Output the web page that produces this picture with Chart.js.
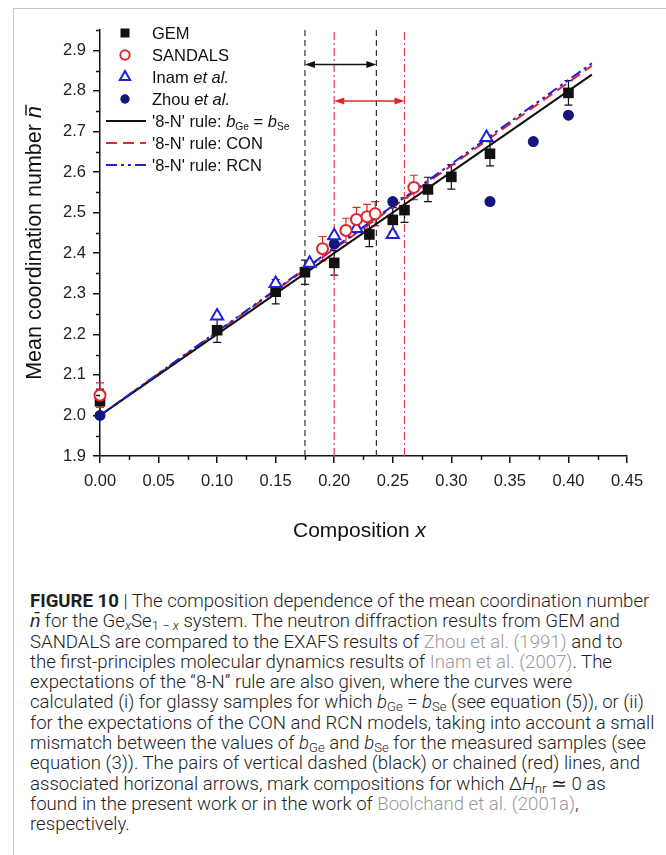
<!DOCTYPE html>
<html>
<head>
<meta charset="utf-8">
<script src="https://cdn.jsdelivr.net/npm/chart.js@4.4.1/dist/chart.umd.min.js"></script>
<style>
  html, body { margin: 0; padding: 0; background: #fff; }
  body { width: 666px; height: 855px; position: relative; overflow: hidden; }
  #frame { position: absolute; left: 13px; top: 8px; width: 700px; height: 900px; border: 1px solid #c4c4c4; box-sizing: border-box; }
  #chartBox { position: absolute; left: 0; top: 0; width: 666px; height: 560px; }
  #caption { position: absolute; left: 30px; top: 591px; font-family: Roboto, 'Liberation Sans', sans-serif; font-weight: 300;
             font-size: 18.6px; line-height: 20.3px; color: #1e1e1e; white-space: nowrap; }
  #caption b { font-weight: 700; }
  #caption sub { font-size: 0.7em; line-height: 0; vertical-align: -0.25em; }
  #caption .ref { color: #9a9a9a; }
</style>
</head>
<body>
<div id="frame"></div>
<div id="chartBox"><canvas id="myChart" width="666" height="560"></canvas></div>
<div id="caption">
<b>FIGURE 10</b> | The composition dependence of the mean coordination number<br>
<i>n&#772;</i> for the Ge<sub><i>x</i></sub>Se<sub>1 &minus; <i>x</i></sub> system. The neutron diffraction results from GEM and<br>
SANDALS are compared to the EXAFS results of <span class="ref">Zhou et al. (1991)</span> and to<br>
the first-principles molecular dynamics results of <span class="ref">Inam et al. (2007)</span>. The<br>
expectations of the &ldquo;8-N&rdquo; rule are also given, where the curves were<br>
calculated (i) for glassy samples for which <i>b</i><sub>Ge</sub> = <i>b</i><sub>Se</sub> (see equation (5)), or (ii)<br>
for the expectations of the CON and RCN models, taking into account a small<br>
mismatch between the values of <i>b</i><sub>Ge</sub> and <i>b</i><sub>Se</sub> for the measured samples (see<br>
equation (3)). The pairs of vertical dashed (black) or chained (red) lines, and<br>
associated horizonal arrows, mark compositions for which &Delta;<i>H</i><sub>nr</sub> &#8771; 0 as<br>
found in the present work or in the work of <span class="ref">Boolchand et al. (2001a)</span>,<br>
respectively.
</div>
<script>
// axis ranges
const xMin = 0, xMax = 0.45, yMin = 1.9, yMax = 2.95;

// GEM neutron diffraction
const gemX   = [0.000, 0.100, 0.150, 0.175, 0.200, 0.230, 0.250, 0.260, 0.280, 0.300, 0.333, 0.400];
const gemN   = [2.035, 2.210, 2.305, 2.353, 2.376, 2.446, 2.482, 2.506, 2.557, 2.588, 2.645, 2.795];
const gemErr = [0.030, 0.030, 0.030, 0.030, 0.030, 0.030, 0.030, 0.030, 0.030, 0.030, 0.030, 0.030];

// SANDALS neutron diffraction
const sandalsX   = [0.000, 0.190, 0.210, 0.219, 0.228, 0.235, 0.268];
const sandalsN   = [2.050, 2.411, 2.456, 2.483, 2.490, 2.497, 2.562];
const sandalsErr = [0.030, 0.030, 0.030, 0.030, 0.030, 0.030, 0.030];

// Inam et al. (FPMD)
const inamX = [0.100, 0.150, 0.179, 0.200, 0.219, 0.250, 0.330];
const inamN = [2.245, 2.325, 2.375, 2.443, 2.461, 2.446, 2.685];

// Zhou et al. (EXAFS)
const zhouX = [0.000, 0.200, 0.250, 0.333, 0.370, 0.400];
const zhouN = [2.000, 2.422, 2.527, 2.527, 2.675, 2.740];

// '8-N' rule curves
const ruleX     = [0.000, 0.420];
const ruleEqual = [2.000, 2.840];
const ruleCON   = [2.000, 2.862];
const ruleRCN   = [2.000, 2.868];

// composition windows (present work / Boolchand) and arrow heights
const dashedWindow  = [0.175, 0.236];
const chainedWindow = [0.200, 0.260];
const arrowLevels   = [2.865, 2.775];

const xTickStep = 0.05, yTickStep = 0.1;

const legendLabels = [
  [{t: 'GEM'}],
  [{t: 'SANDALS'}],
  [{t: 'Inam '}, {t: 'et al.', it: true}],
  [{t: 'Zhou '}, {t: 'et al.', it: true}],
  [{t: "'8-N' rule: "}, {t: 'b', it: true}, {t: 'Ge', sub: true}, {t: ' = '}, {t: 'b', it: true}, {t: 'Se', sub: true}],
  [{t: "'8-N' rule: CON"}],
  [{t: "'8-N' rule: RCN"}]
];

const FONT = "'Liberation Sans', Arial, sans-serif";
const RED = '#e3262b', BLUE = '#2020d8', NAVY = '#15157e';

function pts(xs, ys) {
  return xs.map((v, i) => ({x: v, y: ys[i]}));
}
function vline(xv) {
  return [{x: xv, y: yMin}, {x: xv, y: yMax}];
}

function drawRich(ctx, parts, x, y, size, color, measureOnly) {
  let cx = x;
  parts.forEach(p => {
    const fs = p.sub ? size * 0.62 : size;
    ctx.font = (p.it ? 'italic ' : '') + fs + 'px ' + FONT;
    if (!measureOnly) {
      ctx.fillStyle = color;
      ctx.fillText(p.t, cx, y + (p.sub ? size * 0.3 : 0));
    }
    cx += ctx.measureText(p.t).width;
  });
  return cx - x;
}

// error bars under the markers
const errorBarPlugin = {
  id: 'errorBars',
  beforeDatasetsDraw(chart) {
    const {ctx, scales: {y}} = chart;
    chart.data.datasets.forEach((ds, di) => {
      if (!ds.errY) return;
      const meta = chart.getDatasetMeta(di);
      ctx.save();
      ctx.strokeStyle = ds.borderColor;
      ctx.lineWidth = 1.2;
      meta.data.forEach((el, i) => {
        const v = ds.data[i].y, e = ds.errY[i];
        const top = y.getPixelForValue(v + e), bot = y.getPixelForValue(v - e);
        ctx.beginPath();
        ctx.moveTo(el.x, top); ctx.lineTo(el.x, bot);
        ctx.moveTo(el.x - 4, top); ctx.lineTo(el.x + 4, top);
        ctx.moveTo(el.x - 4, bot); ctx.lineTo(el.x + 4, bot);
        ctx.stroke();
      });
      ctx.restore();
    });
  }
};

function drawArrow(ctx, x1, x2, yy, color) {
  ctx.save();
  ctx.strokeStyle = color; ctx.fillStyle = color; ctx.lineWidth = 1.5;
  ctx.beginPath(); ctx.moveTo(x1 + 5, yy); ctx.lineTo(x2 - 5, yy); ctx.stroke();
  [[x1, 1], [x2, -1]].forEach(([px, d]) => {
    ctx.beginPath();
    ctx.moveTo(px, yy);
    ctx.lineTo(px + d * 10, yy - 3.5);
    ctx.lineTo(px + d * 10, yy + 3.5);
    ctx.closePath(); ctx.fill();
  });
  ctx.restore();
}

// arrows, minor ticks, axis titles and legend
const decorPlugin = {
  id: 'decor',
  afterDraw(chart) {
    const {ctx, chartArea: a, scales: {x, y}} = chart;

    drawArrow(ctx, x.getPixelForValue(dashedWindow[0]), x.getPixelForValue(dashedWindow[1]),
              y.getPixelForValue(arrowLevels[0]), '#111');
    drawArrow(ctx, x.getPixelForValue(chainedWindow[0]), x.getPixelForValue(chainedWindow[1]),
              y.getPixelForValue(arrowLevels[1]), RED);

    // minor ticks
    ctx.save();
    ctx.strokeStyle = '#111'; ctx.lineWidth = 1.5;
    ctx.beginPath();
    for (let v = xMin + xTickStep / 2; v < xMax; v += xTickStep) {
      const px = Math.round(x.getPixelForValue(v)) + 0.5;
      ctx.moveTo(px, a.bottom); ctx.lineTo(px, a.bottom + 4);
    }
    for (let v = yMin + yTickStep / 2; v <= yMax + 1e-9; v += yTickStep) {
      const py = Math.round(y.getPixelForValue(v)) + 0.5;
      ctx.moveTo(a.left, py); ctx.lineTo(a.left - 4, py);
    }
    ctx.stroke();
    ctx.restore();

    // axis titles
    ctx.save();
    ctx.textBaseline = 'alphabetic';
    const xt = [{t: 'Composition '}, {t: 'x', it: true}];
    const wx = drawRich(ctx, xt, 0, 0, 21, '#111', true);
    drawRich(ctx, xt, (a.left + a.right) / 2 - wx / 2 - 4, 537, 21, '#111');

    ctx.translate(41, (a.top + a.bottom) / 2);
    ctx.rotate(-Math.PI / 2);
    const yt = [{t: 'Mean coordination number '}, {t: 'n', it: true}];
    const wy = drawRich(ctx, yt, 0, 0, 21.5, '#111', true);
    const x0 = -wy / 2;
    drawRich(ctx, yt, x0, 0, 21.5, '#111');
    ctx.font = 'italic 21.5px ' + FONT;
    const nW = ctx.measureText('n').width;
    ctx.strokeStyle = '#111'; ctx.lineWidth = 1.4;
    ctx.beginPath(); ctx.moveTo(x0 + wy - nW + 2.5, -15); ctx.lineTo(x0 + wy + 1.5, -15); ctx.stroke();
    ctx.restore();

    // legend
    ctx.save();
    ctx.textBaseline = 'middle';
    const order = [0, 1, 2, 3, 4, 5, 6];
    order.forEach((di, row) => {
      const ds = chart.data.datasets[di];
      const cy = 33 + row * 22;
      if (ds.showLine) {
        ctx.strokeStyle = ds.borderColor;
        ctx.lineWidth = ds.borderWidth;
        ctx.setLineDash(ds.borderDash || []);
        ctx.beginPath(); ctx.moveTo(106, cy); ctx.lineTo(146, cy); ctx.stroke();
        ctx.setLineDash([]);
      } else {
        ctx.fillStyle = ds.backgroundColor;
        ctx.strokeStyle = ds.borderColor;
        ctx.lineWidth = ds.borderWidth;
        Chart.helpers.drawPoint(ctx, {pointStyle: ds.pointStyle, radius: ds.pointRadius * 0.85,
                                      rotation: 0, borderWidth: ds.borderWidth}, 125, cy);
      }
      drawRich(ctx, legendLabels[row], 152, cy + 1, 16.5, '#111');
    });
    ctx.restore();
  }
};

const datasets = [
  {label: 'GEM', data: pts(gemX, gemN), errY: gemErr, pointStyle: 'rect', pointRadius: 7.5,
   backgroundColor: '#111', borderColor: '#111', borderWidth: 0, order: 1},
  {label: 'SANDALS', data: pts(sandalsX, sandalsN), errY: sandalsErr, pointStyle: 'circle', pointRadius: 5.5,
   backgroundColor: '#fff', borderColor: RED, borderWidth: 2, order: 0},
  {label: 'Inam et al.', data: pts(inamX, inamN), pointStyle: 'triangle', pointRadius: 7,
   backgroundColor: '#fff', borderColor: BLUE, borderWidth: 2, order: 0},
  {label: 'Zhou et al.', data: pts(zhouX, zhouN), pointStyle: 'circle', pointRadius: 5.5,
   backgroundColor: NAVY, borderColor: NAVY, borderWidth: 0, order: 0},
  {label: "'8-N' rule: bGe = bSe", data: pts(ruleX, ruleEqual), showLine: true, pointRadius: 0,
   borderColor: '#111', borderWidth: 2, order: 3},
  {label: "'8-N' rule: CON", data: pts(ruleX, ruleCON), showLine: true, pointRadius: 0,
   borderColor: RED, borderWidth: 2, borderDash: [11, 6], order: 4},
  {label: "'8-N' rule: RCN", data: pts(ruleX, ruleRCN), showLine: true, pointRadius: 0,
   borderColor: BLUE, borderWidth: 2, borderDash: [11, 4, 3, 4, 3, 4], order: 2},
  {label: 'window a', data: vline(dashedWindow[0]), showLine: true, pointRadius: 0,
   borderColor: '#333', borderWidth: 1.2, borderDash: [6, 4], order: 6},
  {label: 'window b', data: vline(dashedWindow[1]), showLine: true, pointRadius: 0,
   borderColor: '#333', borderWidth: 1.2, borderDash: [6, 4], order: 6},
  {label: 'window c', data: vline(chainedWindow[0]), showLine: true, pointRadius: 0,
   borderColor: '#e8404f', borderWidth: 1.2, borderDash: [8, 3, 2, 3], order: 6},
  {label: 'window d', data: vline(chainedWindow[1]), showLine: true, pointRadius: 0,
   borderColor: '#e8404f', borderWidth: 1.2, borderDash: [8, 3, 2, 3], order: 6}
];

new Chart(document.getElementById('myChart'), {
  type: 'scatter',
  data: {datasets: datasets},
  options: {
    responsive: false,
    animation: false,
    clip: false,
    layout: {padding: {left: 0, right: 39, top: 30, bottom: 0}},
    plugins: {legend: {display: false}, tooltip: {enabled: false}},
    elements: {line: {tension: 0, fill: false}},
    scales: {
      x: {
        type: 'linear', min: xMin, max: xMax,
        afterFit: s => { s.height = 104; },
        border: {display: true, color: '#111', width: 1.5},
        grid: {drawOnChartArea: false, drawTicks: true, tickLength: 7, color: '#111', lineWidth: 1.5},
        ticks: {stepSize: xTickStep, includeBounds: false, padding: 9, color: '#222',
                font: {family: FONT, size: 16.5}, callback: v => v.toFixed(2)}
      },
      y: {
        type: 'linear', min: yMin, max: yMax,
        afterFit: s => { s.width = 100; },
        border: {display: true, color: '#111', width: 1.5},
        grid: {drawOnChartArea: false, drawTicks: true, tickLength: 7, color: '#111', lineWidth: 1.5},
        ticks: {stepSize: yTickStep, includeBounds: false, padding: 7, color: '#222',
                font: {family: FONT, size: 16.5}, callback: v => v.toFixed(1)}
      }
    }
  },
  plugins: [errorBarPlugin, decorPlugin]
});
</script>
</body>
</html>
